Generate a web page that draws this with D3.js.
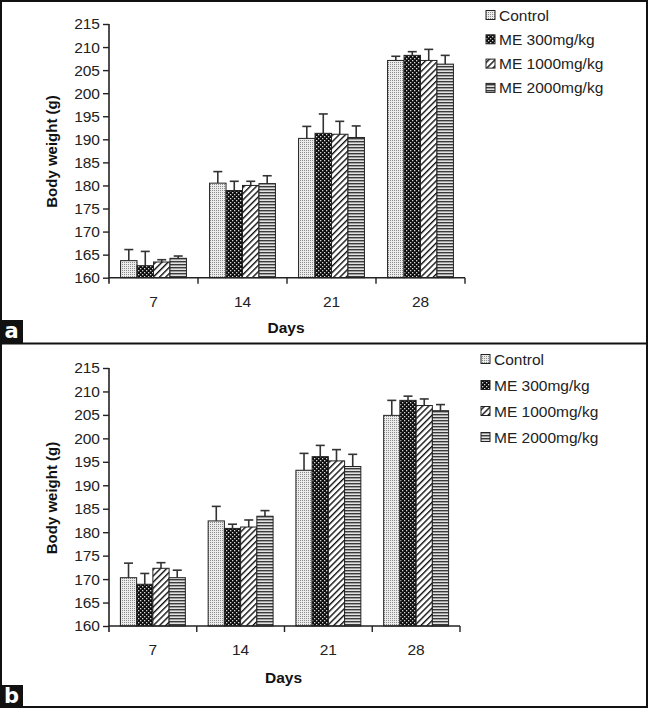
<!DOCTYPE html>
<html>
<head>
<meta charset="utf-8">
<script src="https://cdn.jsdelivr.net/npm/d3@7"></script>
<style>
  html, body { margin: 0; padding: 0; background: #fff; }
  svg { display: block; font-family: "Liberation Sans", Arial, sans-serif; }
</style>
</head>
<body>
<svg id="chart" width="650" height="709"></svg>
<script>
// ---------- data ----------
const days = ["7", "14", "21", "28"];
const groups = ["Control", "ME 300mg/kg", "ME 1000mg/kg", "ME 2000mg/kg"];
const yTicks = [160, 165, 170, 175, 180, 185, 190, 195, 200, 205, 210, 215];

// Panel a: mean body weight (g) per group, per day
const aControl = [163.7, 180.5, 190.2, 207.1];
const aME300   = [162.6, 178.9, 191.3, 208.2];
const aME1000  = [163.4, 180.0, 191.1, 207.1];
const aME2000  = [164.2, 180.4, 190.4, 206.3];
// Panel a: error (upper SD)
const aControlErr = [2.4, 2.5, 2.6, 0.9];
const aME300Err   = [3.1, 2.0, 4.2, 0.8];
const aME1000Err  = [0.5, 0.9, 2.8, 2.4];
const aME2000Err  = [0.5, 1.7, 2.5, 1.9];

// Panel b: mean body weight (g)
const bControl = [170.3, 182.4, 193.2, 204.9];
const bME300   = [168.9, 180.8, 196.1, 208.1];
const bME1000  = [172.3, 181.1, 195.2, 207.0];
const bME2000  = [170.3, 183.4, 194.0, 205.9];
// Panel b: error (upper SD)
const bControlErr = [3.1, 3.1, 3.6, 3.2];
const bME300Err   = [2.3, 0.9, 2.4, 0.9];
const bME1000Err  = [1.2, 1.5, 2.4, 1.4];
const bME2000Err  = [1.6, 1.2, 2.6, 1.3];

const xTitle = "Days";
const yTitle = "Body weight (g)";

// ---------- drawing ----------
const svg = d3.select("#chart");
const defs = svg.append("defs");

// patterns
function pat(id, w, h, build, transform) {
  const p = defs.append("pattern").attr("id", id)
    .attr("patternUnits", "userSpaceOnUse").attr("width", w).attr("height", h);
  if (transform) p.attr("patternTransform", transform);
  build(p);
}
pat("p0", 2, 2, p => {
  p.append("rect").attr("width", 2).attr("height", 2).attr("fill", "#ececec");
  p.append("rect").attr("width", 1).attr("height", 1).attr("fill", "#8a8a8a");
});
pat("p1", 4, 4, p => {
  p.append("rect").attr("width", 4).attr("height", 4).attr("fill", "#0d0d0d");
  p.append("rect").attr("x", 0).attr("y", 0).attr("width", 1.3).attr("height", 1.3).attr("fill", "#d8d8d8");
  p.append("rect").attr("x", 2).attr("y", 2).attr("width", 1.3).attr("height", 1.3).attr("fill", "#d8d8d8");
});
pat("p2", 4.4, 10, p => {
  p.append("rect").attr("width", 4.4).attr("height", 10).attr("fill", "#fff");
  p.append("rect").attr("x", 0).attr("width", 1.4).attr("height", 10).attr("fill", "#111");
}, "rotate(45)");
pat("p3", 4, 3, p => {
  p.append("rect").attr("width", 4).attr("height", 3).attr("fill", "#e2e2e2");
  p.append("rect").attr("y", 0).attr("width", 4).attr("height", 1.4).attr("fill", "#3a3a3a");
});
const fills = ["url(#p0)", "url(#p1)", "url(#p2)", "url(#p3)"];

const panels = [
  {
    label: "a", series: [aControl, aME300, aME1000, aME2000],
    errs: [aControlErr, aME300Err, aME1000Err, aME2000Err],
    xRange: [109, 465], yRange: [277.7, 24],
    xLabelY: 307, xTitleY: 333, yTitleX: 57, yTitleY: 151.5,
    legX: 486, legY0: 15, legDy: 24.3,
    labelBox: [0, 320]
  },
  {
    label: "b", series: [bControl, bME300, bME1000, bME2000],
    errs: [bControlErr, bME300Err, bME1000Err, bME2000Err],
    xRange: [109, 460], yRange: [626, 368],
    xLabelY: 655, xTitleY: 683, yTitleX: 57, yTitleY: 498,
    legX: 481, legY0: 359, legDy: 26,
    labelBox: [0, 685]
  }
];

panels.forEach(P => {
  const g = svg.append("g");
  const x0 = d3.scaleBand().domain(days).range(P.xRange).paddingInner(0.26).paddingOuter(0.13);
  const x1 = d3.scaleBand().domain(groups).range([0, x0.bandwidth()]);
  const y = d3.scaleLinear().domain([160, 215]).range(P.yRange);

  // bars
  groups.forEach((grp, gi) => {
    const vals = P.series[gi], errs = P.errs[gi];
    const bg = g.append("g");
    bg.selectAll("line.err").data(days).join("line")
      .attr("x1", d => x0(d) + x1(grp) + x1.bandwidth() / 2)
      .attr("x2", d => x0(d) + x1(grp) + x1.bandwidth() / 2)
      .attr("y1", (d, i) => y(vals[i]))
      .attr("y2", (d, i) => y(vals[i] + errs[i]))
      .attr("stroke", "#333").attr("stroke-width", 1.6);
    bg.selectAll("line.cap").data(days).join("line")
      .attr("x1", d => x0(d) + x1(grp) + x1.bandwidth() / 2 - 4.5)
      .attr("x2", d => x0(d) + x1(grp) + x1.bandwidth() / 2 + 4.5)
      .attr("y1", (d, i) => y(vals[i] + errs[i]))
      .attr("y2", (d, i) => y(vals[i] + errs[i]))
      .attr("stroke", "#333").attr("stroke-width", 1.6);
    bg.selectAll("rect").data(days).join("rect")
      .attr("x", d => x0(d) + x1(grp))
      .attr("width", x1.bandwidth())
      .attr("y", (d, i) => y(vals[i]))
      .attr("height", (d, i) => y(160) - y(vals[i]))
      .attr("fill", fills[gi])
      .attr("stroke", "#222").attr("stroke-width", 1);
  });

  // y axis
  const yAxis = d3.axisLeft(y).tickValues(yTicks).tickSize(6).tickPadding(3);
  const ya = g.append("g").attr("transform", `translate(${P.xRange[0]},0)`).call(yAxis);
  ya.select(".domain").attr("d", `M0,${P.yRange[0] + 6}V${P.yRange[1]}`).attr("stroke", "#222").attr("stroke-width", 1.6);
  ya.selectAll(".tick line").attr("stroke", "#222").attr("stroke-width", 1.4);
  ya.selectAll(".tick text").attr("font-size", "15.5px").attr("fill", "#222")
    .attr("font-family", "'Liberation Sans', Arial, sans-serif");

  // x axis
  const xa = g.append("g").attr("transform", `translate(0,${P.yRange[0]})`);
  xa.append("line").attr("x1", P.xRange[0]).attr("x2", P.xRange[1])
    .attr("stroke", "#222").attr("stroke-width", 1.6);
  xa.selectAll("line.tk").data(days).join("line")
    .attr("x1", d => x0(d) + x0.bandwidth() + x0.step() * 0.13)
    .attr("x2", d => x0(d) + x0.bandwidth() + x0.step() * 0.13)
    .attr("y1", 0).attr("y2", 6)
    .attr("stroke", "#222").attr("stroke-width", 1.4);
  g.selectAll("text.xl").data(days).join("text")
    .attr("x", d => x0(d) + x0.bandwidth() / 2)
    .attr("y", P.xLabelY)
    .attr("text-anchor", "middle").attr("font-size", "15.5px").attr("fill", "#222")
    .text(d => d);

  // titles
  g.append("text").attr("x", (P.xRange[0] + P.xRange[1]) / 2 - 1).attr("y", P.xTitleY)
    .attr("text-anchor", "middle").attr("font-size", "15.5px").attr("font-weight", "bold").attr("fill", "#111")
    .text(xTitle);
  g.append("text").attr("transform", `translate(${P.yTitleX},${P.yTitleY}) rotate(-90)`)
    .attr("text-anchor", "middle").attr("font-size", "15px").attr("font-weight", "bold").attr("fill", "#111")
    .text(yTitle);

  // legend
  const leg = g.append("g");
  groups.forEach((grp, gi) => {
    const cy = P.legY0 + gi * P.legDy;
    leg.append("rect").attr("x", P.legX).attr("y", cy - 4.5).attr("width", 9).attr("height", 9)
      .attr("fill", fills[gi]).attr("stroke", "#222").attr("stroke-width", 1);
    leg.append("text").attr("x", P.legX + 13).attr("y", cy).attr("dy", "0.36em")
      .attr("font-size", "15.5px").attr("fill", "#222").text(grp);
  });

  // panel label box
  g.append("rect").attr("x", P.labelBox[0]).attr("y", P.labelBox[1]).attr("width", 23).attr("height", 23).attr("fill", "#111");
  g.append("text").attr("x", P.labelBox[0] + 11.5).attr("y", P.labelBox[1] + 18)
    .attr("text-anchor", "middle").attr("font-size", "21px").attr("font-weight", "bold").attr("fill", "#fff")
    .attr("font-family", "'DejaVu Sans', sans-serif")
    .text(P.label);
});

// frame and divider
svg.append("rect").attr("x", 1).attr("y", 1).attr("width", 646).attr("height", 706)
  .attr("fill", "none").attr("stroke", "#111").attr("stroke-width", 2);
svg.append("line").attr("x1", 0).attr("x2", 647).attr("y1", 343.5).attr("y2", 343.5)
  .attr("stroke", "#111").attr("stroke-width", 2);
</script>
</body>
</html>
